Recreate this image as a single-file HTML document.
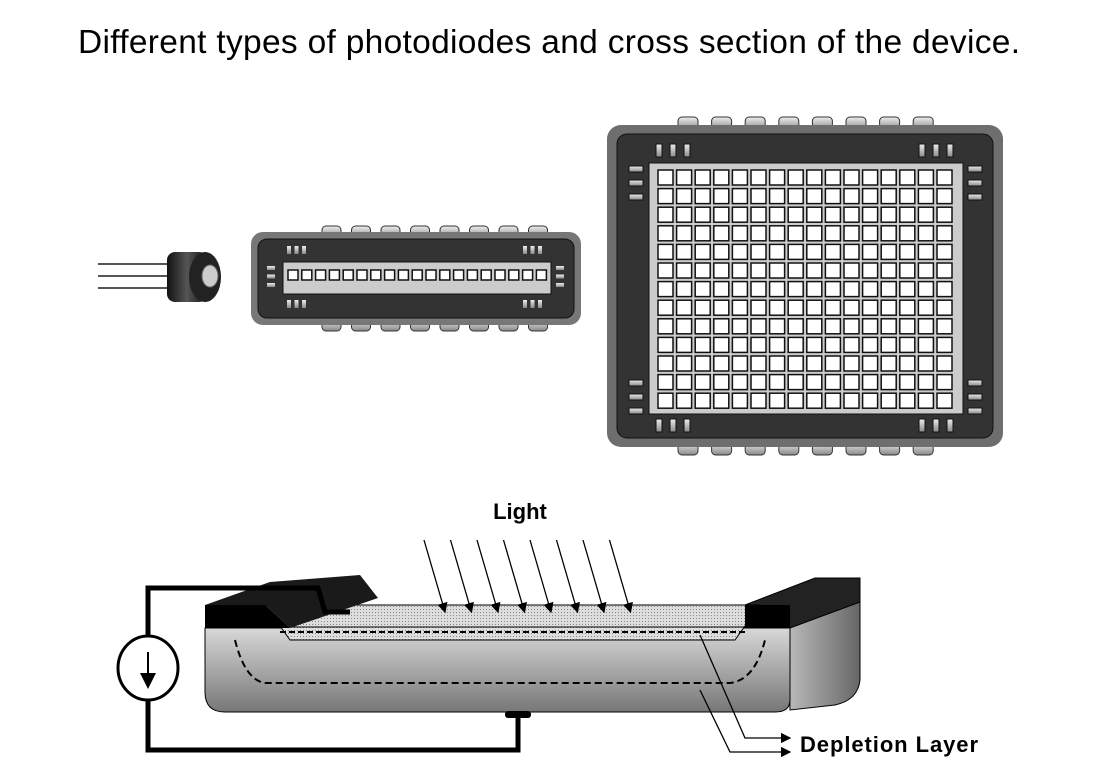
<!DOCTYPE html>
<html><head><meta charset="utf-8"><style>
html,body{margin:0;padding:0;background:#fff;width:1113px;height:774px;overflow:hidden}
svg{display:block}
text{font-family:"Liberation Sans",sans-serif}
</style></head><body>
<svg id="s" width="1113" height="774" viewBox="0 0 1113 774">
<defs>
<linearGradient id="pad" x1="0" x2="0" y1="0" y2="1"><stop offset="0" stop-color="#eee"/><stop offset="1" stop-color="#888"/></linearGradient>
<linearGradient id="body" x1="0" x2="0" y1="0" y2="1"><stop offset="0" stop-color="#d8d8d8"/><stop offset="1" stop-color="#777"/></linearGradient>
<linearGradient id="side" x1="0" x2="1" y1="0" y2="0"><stop offset="0" stop-color="#bbb"/><stop offset="1" stop-color="#666"/></linearGradient>
<linearGradient id="can" x1="0" x2="1"><stop offset="0" stop-color="#111"/><stop offset="0.5" stop-color="#555"/><stop offset="1" stop-color="#111"/></linearGradient>
<pattern id="dots" width="3" height="3" patternUnits="userSpaceOnUse"><rect width="3" height="3" fill="#ddd"/><rect width="1" height="1" fill="#888"/></pattern>
<marker id="ah" markerWidth="8" markerHeight="8" refX="7" refY="4" orient="auto"><path d="M0,0 L8,4 L0,8 Z" fill="#000"/></marker>
</defs>
<text x="78" y="53" font-size="33.5" fill="#000" textLength="942">Different types of photodiodes and cross section of the device.</text>

<g>
<line x1="98" y1="264" x2="168" y2="264" stroke="#555" stroke-width="2"/>
<line x1="98" y1="276" x2="168" y2="276" stroke="#555" stroke-width="2"/>
<line x1="98" y1="288" x2="168" y2="288" stroke="#555" stroke-width="2"/>
<rect x="167" y="252" width="40" height="50" rx="8" fill="url(#can)"/>
<ellipse cx="205" cy="277" rx="16" ry="25" fill="#222"/>
<ellipse cx="210" cy="276" rx="8" ry="11" fill="#ccc" stroke="#666"/>
</g>

<g id="linear"></g>
<g id="matrix"></g>

<g>
<text x="520" y="519" font-size="22" font-weight="bold" text-anchor="middle">Light</text>
<path d="M788,628 L860,600 L860,680 Q858,700 835,705 L790,710 Z" fill="url(#side)" stroke="#000"/>
<path d="M745,605 L815,578 L860,578 L860,602 L790,628 L745,628 Z" fill="#222" stroke="#000"/>
<path d="M205,628 L790,628 L790,700 Q790,712 775,712 L225,712 Q205,712 205,692 Z" fill="url(#body)" stroke="#000"/>
<path d="M265,605 L760,605 L735,640 L290,640 Z" fill="url(#dots)" stroke="#000"/>
<line x1="280" y1="627" x2="748" y2="627" stroke="#000"/>
<path d="M280,632 L745,632" stroke="#000" stroke-width="2" stroke-dasharray="6,3"/>
<path d="M235,640 Q245,680 265,683 L730,683 Q755,680 765,640" fill="none" stroke="#000" stroke-width="2" stroke-dasharray="7,4"/>
<path d="M205,605 L265,605 L290,628 L205,628 Z" fill="#000"/>
<path d="M205,605 L270,582 L360,575 L378,598 L290,628 L265,605 Z" fill="#1a1a1a"/>
<rect x="745" y="605" width="45" height="23" fill="#000"/>
<path d="M148,638 L148,588 L318,588 L325,612 L350,612" fill="none" stroke="#000" stroke-width="5"/>
<path d="M148,698 L148,750 L518,750 L518,715" fill="none" stroke="#000" stroke-width="5"/>
<rect x="505" y="711" width="26" height="7" rx="3" fill="#000"/>
<ellipse cx="148" cy="668" rx="30" ry="32" fill="#fff" stroke="#000" stroke-width="3"/>
<line x1="148" y1="652" x2="148" y2="687" stroke="#000" stroke-width="2" marker-end="url(#ah)"/>
<g id="rays"></g>
<path d="M700,635 L745,738 L790,738" fill="none" stroke="#000" stroke-width="1.3" marker-end="url(#ah)"/>
<path d="M700,690 L730,752 L790,752" fill="none" stroke="#000" stroke-width="1.3" marker-end="url(#ah)"/>
<text x="800" y="752" font-size="22" font-weight="bold" textLength="178">Depletion Layer</text>
</g>
</svg>
<script>
const NS='http://www.w3.org/2000/svg';
function el(p,t,a){const e=document.createElementNS(NS,t);for(const k in a)e.setAttribute(k,a[k]);p.appendChild(e);return e;}
const L=document.getElementById('linear');
for(let i=0;i<8;i++){el(L,'rect',{x:322+i*29.5,y:226,width:19,height:12,rx:4,fill:'url(#pad)',stroke:'#333'});el(L,'rect',{x:322+i*29.5,y:319,width:19,height:12,rx:4,fill:'url(#pad)',stroke:'#333'});}
el(L,'rect',{x:251,y:232,width:330,height:93,rx:12,fill:'#777'});
el(L,'rect',{x:258,y:239,width:316,height:79,rx:9,fill:'#333',stroke:'#111'});
el(L,'rect',{x:283,y:262,width:268,height:32,fill:'#ccc',stroke:'#111'});
for(let i=0;i<19;i++)el(L,'rect',{x:288+i*13.8,y:270,width:10,height:10,fill:'#fff',stroke:'#111','stroke-width':1.5});
[287,523].forEach(x=>{for(let j=0;j<3;j++){el(L,'rect',{x:x+j*7.5,y:246,width:4,height:8,fill:'url(#pad)'});el(L,'rect',{x:x+j*7.5,y:300,width:4,height:8,fill:'url(#pad)'});}});
[267,556].forEach(x=>{for(let j=0;j<3;j++)el(L,'rect',{x:x,y:266+j*8.5,width:8,height:4,fill:'url(#pad)'});});
const M=document.getElementById('matrix');
for(let i=0;i<8;i++){el(M,'rect',{x:678+i*33.6,y:117,width:20,height:13,rx:4,fill:'url(#pad)',stroke:'#333'});el(M,'rect',{x:678+i*33.6,y:442,width:20,height:13,rx:4,fill:'url(#pad)',stroke:'#333'});}
el(M,'rect',{x:607,y:125,width:396,height:322,rx:14,fill:'#6e6e6e'});
el(M,'rect',{x:617,y:134,width:376,height:304,rx:10,fill:'#333',stroke:'#111'});
el(M,'rect',{x:649,y:163,width:314,height:251,fill:'#ccc',stroke:'#111'});
for(let r=0;r<13;r++)for(let c=0;c<16;c++)el(M,'rect',{x:658+c*18.6,y:170+r*18.6,width:15,height:15,fill:'#fff',stroke:'#111','stroke-width':1.5});
[656,919].forEach(x=>{for(let j=0;j<3;j++){el(M,'rect',{x:x+j*14,y:144,width:6,height:13,fill:'url(#pad)',stroke:'#111'});el(M,'rect',{x:x+j*14,y:419,width:6,height:13,fill:'url(#pad)',stroke:'#111'});}});
[629,968].forEach(x=>{[166,380].forEach(y=>{for(let j=0;j<3;j++)el(M,'rect',{x:x,y:y+j*14,width:14,height:6,fill:'url(#pad)',stroke:'#111'});});});
const R=document.getElementById('rays');
for(let i=0;i<8;i++)el(R,'line',{x1:424+i*26.5,y1:540,x2:445+i*26.5,y2:612,stroke:'#000','stroke-width':1.3,'marker-end':'url(#ah)'});
</script>
</body></html>
